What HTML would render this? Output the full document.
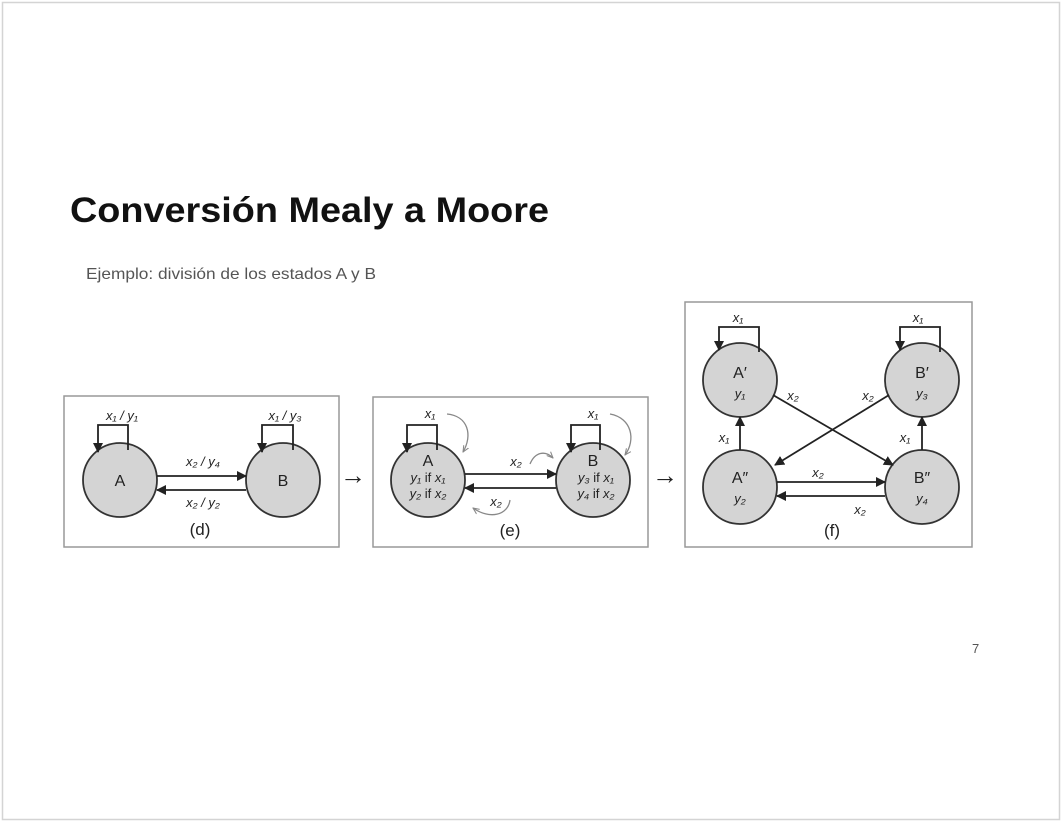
<!DOCTYPE html>
<html><head><meta charset="utf-8"><style>
html,body{margin:0;padding:0;background:#fff;}
svg{display:block;}
</style></head><body>
<svg width="1062" height="822" viewBox="0 0 1062 822" xmlns="http://www.w3.org/2000/svg" font-family="Liberation Sans, Arial, sans-serif">
<defs>
<marker id="ar" viewBox="0 0 10 10" refX="9" refY="5" markerWidth="10" markerHeight="10" markerUnits="userSpaceOnUse" orient="auto"><path d="M0,0 L10,5 L0,10 z" fill="#222"/></marker>
<marker id="ag" viewBox="0 0 10 10" refX="9" refY="5" markerWidth="7" markerHeight="7" markerUnits="userSpaceOnUse" orient="auto"><path d="M0,1 L9,5 L0,9" fill="none" stroke="#888" stroke-width="1.5"/></marker>
</defs>
<rect x="2.5" y="2.5" width="1057" height="817" fill="#fff" stroke="#d4d4d4" stroke-width="1.5"/>
<text x="70" y="222" font-size="35" font-weight="bold" fill="#111" textLength="479" lengthAdjust="spacingAndGlyphs">Conversión Mealy a Moore</text>
<text x="86" y="279" font-size="16" fill="#555" textLength="290" lengthAdjust="spacingAndGlyphs">Ejemplo: división de los estados A y B</text>
<text x="972" y="653" font-size="13" fill="#555">7</text>

<g stroke="#333" fill="none">
<rect x="64" y="396" width="275" height="151" stroke="#999" stroke-width="1.5"/>
<rect x="373" y="397" width="275" height="150" stroke="#999" stroke-width="1.5"/>
<rect x="685" y="302" width="287" height="245" stroke="#999" stroke-width="1.5"/>
</g>

<g fill="#d4d4d4" stroke="#333" stroke-width="1.8">
<circle cx="120" cy="480" r="37"/><circle cx="283" cy="480" r="37"/>
<circle cx="428" cy="480" r="37"/><circle cx="593" cy="480" r="37"/>
<circle cx="740" cy="380" r="37"/><circle cx="922" cy="380" r="37"/>
<circle cx="740" cy="487" r="37"/><circle cx="922" cy="487" r="37"/>
</g>

<g stroke="#222" stroke-width="1.8" fill="none">
<path d="M128,450 V425 H98 V452" marker-end="url(#ar)"/>
<path d="M293,450 V425 H262 V452" marker-end="url(#ar)"/>
<line x1="157" y1="476" x2="246" y2="476" marker-end="url(#ar)"/>
<line x1="246" y1="490" x2="157" y2="490" marker-end="url(#ar)"/>
<path d="M437,450 V425 H407 V452" marker-end="url(#ar)"/>
<path d="M600,450 V425 H571 V452" marker-end="url(#ar)"/>
<line x1="465" y1="474" x2="556" y2="474" marker-end="url(#ar)"/>
<line x1="556" y1="488" x2="465" y2="488" marker-end="url(#ar)"/>
<path d="M759,352 V327 H719 V350" marker-end="url(#ar)"/>
<path d="M940,352 V327 H900 V350" marker-end="url(#ar)"/>
<line x1="740" y1="450" x2="740" y2="417" marker-end="url(#ar)"/>
<line x1="922" y1="450" x2="922" y2="417" marker-end="url(#ar)"/>
<line x1="777" y1="482" x2="885" y2="482" marker-end="url(#ar)"/>
<line x1="885" y1="496" x2="777" y2="496" marker-end="url(#ar)"/>
<line x1="773" y1="395" x2="893" y2="465" marker-end="url(#ar)"/>
<line x1="889" y1="395" x2="775" y2="465" marker-end="url(#ar)"/>
</g>

<g stroke="#888" stroke-width="1.3" fill="none">
<path d="M447,414 C468,416 473,435 463,452" marker-end="url(#ag)"/>
<path d="M610,414 C632,418 636,440 625,455" marker-end="url(#ag)"/>
<path d="M530,464 C535,452 545,450 553,458" marker-end="url(#ag)"/>
<path d="M510,500 C508,515 490,520 473,508" marker-end="url(#ag)"/>
</g>

<g fill="#222" font-size="14" text-anchor="middle">
<text x="353" y="484" font-size="26">→</text>
<text x="665" y="484" font-size="26">→</text>
<g font-style="italic" font-size="13">
<text x="122" y="420">x₁ / y₁</text>
<text x="285" y="420">x₁ / y₃</text>
<text x="203" y="466">x₂ / y₄</text>
<text x="203" y="507">x₂ / y₂</text>
<text x="430" y="418">x₁</text>
<text x="593" y="418">x₁</text>
<text x="516" y="466">x₂</text>
<text x="496" y="506">x₂</text>
<text x="738" y="322">x₁</text>
<text x="918" y="322">x₁</text>
<text x="793" y="400">x₂</text>
<text x="868" y="400">x₂</text>
<text x="724" y="442">x₁</text>
<text x="905" y="442">x₁</text>
<text x="818" y="477">x₂</text>
<text x="860" y="514">x₂</text>
</g>
<text x="120" y="486" font-size="16">A</text>
<text x="283" y="486" font-size="16">B</text>
<text x="200" y="535" font-size="17">(d)</text>
<text x="428" y="466" font-size="16">A</text>
<text x="593" y="466" font-size="16">B</text>
<text x="428" y="482" font-size="13"><tspan font-style="italic">y₁</tspan> if <tspan font-style="italic">x₁</tspan></text>
<text x="428" y="498" font-size="13"><tspan font-style="italic">y₂</tspan> if <tspan font-style="italic">x₂</tspan></text>
<text x="596" y="482" font-size="13"><tspan font-style="italic">y₃</tspan> if <tspan font-style="italic">x₁</tspan></text>
<text x="596" y="498" font-size="13"><tspan font-style="italic">y₄</tspan> if <tspan font-style="italic">x₂</tspan></text>
<text x="510" y="536" font-size="17">(e)</text>
<text x="740" y="378" font-size="16">A′</text>
<text x="740" y="398" font-size="13" font-style="italic">y₁</text>
<text x="922" y="378" font-size="16">B′</text>
<text x="922" y="398" font-size="13" font-style="italic">y₃</text>
<text x="740" y="483" font-size="16">A″</text>
<text x="740" y="503" font-size="13" font-style="italic">y₂</text>
<text x="922" y="483" font-size="16">B″</text>
<text x="922" y="503" font-size="13" font-style="italic">y₄</text>
<text x="832" y="536" font-size="17">(f)</text>
</g>
</svg>
</body></html>
